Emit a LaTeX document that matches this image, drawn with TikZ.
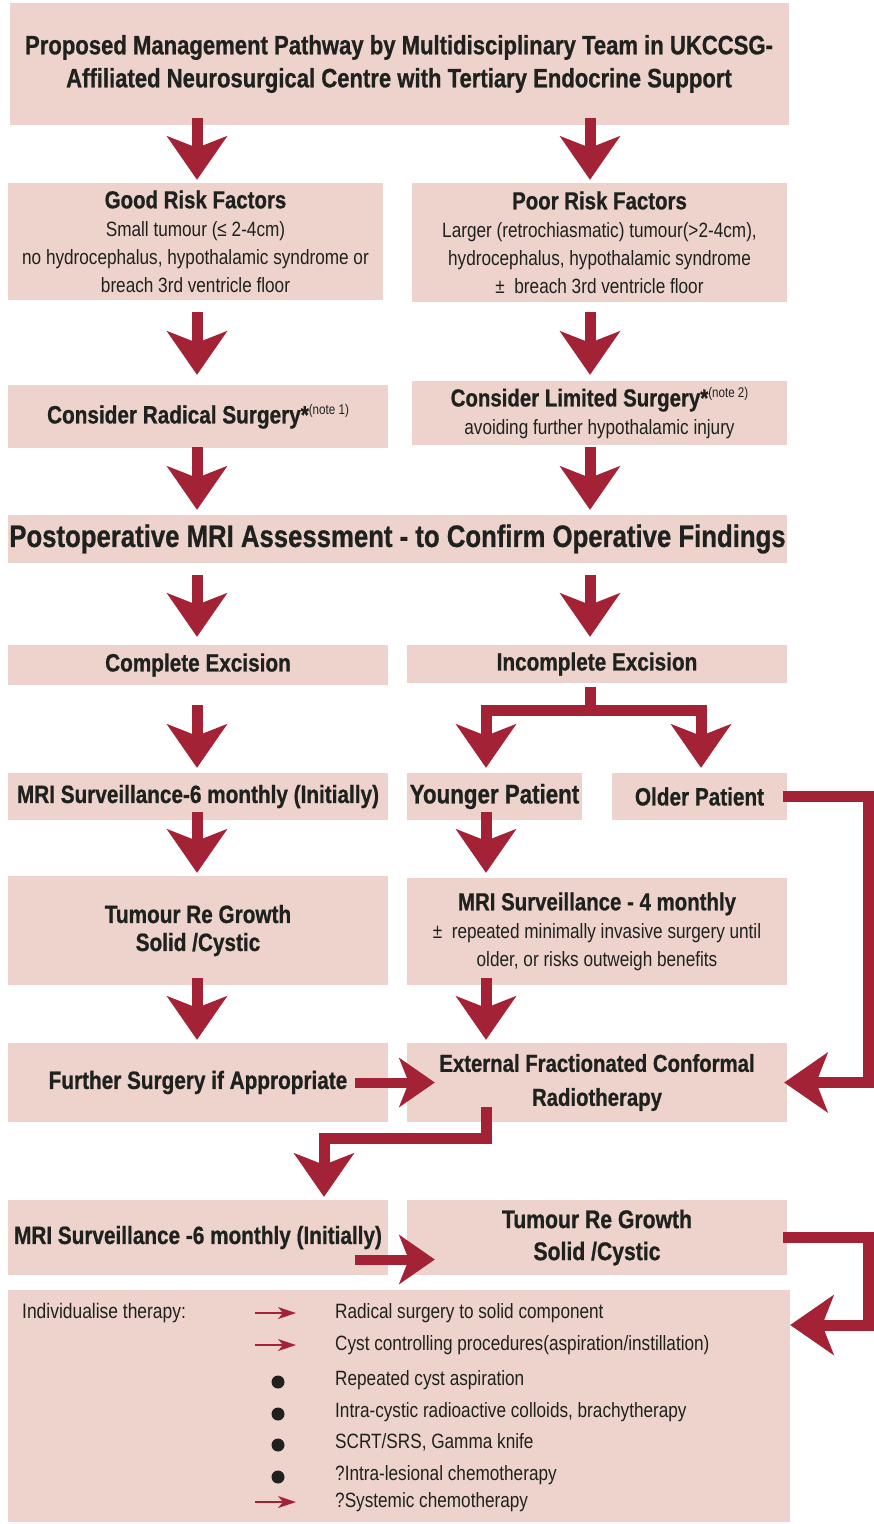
\documentclass[tikz,border=0pt]{standalone}
\usepackage{fontspec}
\setmainfont{Liberation Sans}[FakeStretch=0.83, BoldFeatures={FakeBold=0.8}]
\usetikzlibrary{arrows.meta}

\definecolor{boxpink}{HTML}{EDD3CC}
\definecolor{pathred}{HTML}{A32235}
\definecolor{ink}{HTML}{1F211E}

\newcommand{\boxhead}{\bfseries\fontsize{24.6}{28}\selectfont}
\newcommand{\notemark}[1]{\raisebox{9pt}{\normalfont\fontsize{14}{14}\selectfont(#1)}}

\tikzset{
  box/.style={fill=boxpink, text=ink, inner sep=0pt, align=center},
  headtext/.style={font=\bfseries\fontsize{25}{29}\selectfont},
  bodytext/.style={font=\fontsize{20.7}{28}\selectfont},
  bigarrow/.style={draw=pathred, line width=11pt,
    -{Stealth[length=44pt, width=61pt, inset=12pt, line width=0pt]}},
  sidearrow/.style={draw=pathred, line width=10pt,
    -{Stealth[length=36pt, width=50pt, inset=10pt, line width=0pt]}},
  tinyarrow/.style={draw=pathred, line width=2.5pt,
    -{Stealth[length=18pt, width=12pt, inset=5pt, line width=0pt]}},
  listitem/.style={anchor=west, text=ink, inner sep=0pt,
    font=\fontsize{20.7}{24}\selectfont, text height=14pt, text depth=4pt}
}

\begin{document}
\begin{tikzpicture}[x=1pt, y=-1pt]
  \useasboundingbox (0,0) rectangle (874,1524);

  % Columns for the arrows
  \coordinate (colL) at (197,0);
  \coordinate (colR) at (590,0);
  \coordinate (colY) at (486,0);
  \coordinate (colO) at (701,0);
  \coordinate (colE) at (324,0);
  \coordinate (rim) at (868,0);

  % Boxes
  \node[box, minimum width=779, minimum height=122,
    font=\bfseries\fontsize{26.6}{33}\selectfont] (title) at (399,64)
    {Proposed Management Pathway by Multidisciplinary Team in UKCCSG-\\
     Affiliated Neurosurgical Centre with Tertiary Endocrine Support};

  \node[box, bodytext, minimum width=375, minimum height=117] (good) at (195.5,241.5)
    {{\boxhead Good Risk Factors}\\
     Small tumour (≤ 2-4cm)\\
     no hydrocephalus, hypothalamic syndrome or\\
     breach 3rd ventricle floor};
  \node[box, bodytext, minimum width=375, minimum height=119] (poor) at (599.5,242.5)
    {{\boxhead Poor Risk Factors}\\
     Larger (retrochiasmatic) tumour(>2-4cm),\\
     hydrocephalus, hypothalamic syndrome\\
     ±\ \ breach 3rd ventricle floor};

  \node[box, headtext, minimum width=380, minimum height=63] (radical) at (198,416.5)
    {Consider Radical Surgery*\notemark{note 1}};
  \node[box, bodytext, minimum width=375, minimum height=64] (limited) at (599.5,413)
    {{\boxhead Consider Limited Surgery*\notemark{note 2}}\\
     avoiding further hypothalamic injury};

  \node[box, minimum width=779, minimum height=48,
    font=\bfseries\fontsize{31}{34}\selectfont] (postop) at (397.5,539)
    {Postoperative MRI Assessment - to Confirm Operative Findings};

  \node[box, headtext, minimum width=380, minimum height=40] (complete) at (198,665)
    {Complete Excision};
  \node[box, headtext, minimum width=380, minimum height=38] (incomplete) at (597,664)
    {Incomplete Excision};

  \node[box, headtext, minimum width=380, minimum height=47] (mrisix) at (198,796.5)
    {MRI Surveillance-6 monthly (Initially)};
  \node[box, minimum width=175, minimum height=47,
    font=\bfseries\fontsize{26.9}{30}\selectfont] (younger) at (494.5,796.5)
    {Younger Patient};
  \node[box, headtext, minimum width=175, minimum height=47] (older) at (699.5,796.5)
    {Older Patient};

  \node[box, minimum width=380, minimum height=109,
    font=\bfseries\fontsize{25}{28}\selectfont] (regrowth) at (198,930.5)
    {Tumour Re Growth\\Solid /Cystic};
  \node[box, bodytext, minimum width=380, minimum height=107] (mrifour) at (597,931.5)
    {{\boxhead MRI Surveillance - 4 monthly}\\
     ±\ \ repeated minimally invasive surgery until\\
     older, or risks outweigh benefits};

  \node[box, headtext, minimum width=380, minimum height=79] (further) at (198,1082.5)
    {Further Surgery if Appropriate};
  \node[box, minimum width=380, minimum height=79,
    font=\bfseries\fontsize{24.5}{34}\selectfont] (radio) at (597,1082.5)
    {External Fractionated Conformal\\Radiotherapy};

  \node[box, headtext, minimum width=380, minimum height=75] (mrisixb) at (198,1237.5)
    {MRI Surveillance -6 monthly (Initially)};
  \node[box, minimum width=380, minimum height=75,
    font=\bfseries\fontsize{25.5}{32}\selectfont] (regrowthb) at (597,1237.5)
    {Tumour Re Growth\\Solid /Cystic};

  \node[box, minimum width=782, minimum height=232] (therapy) at (399,1406) {};
  \coordinate (therapyin) at ([yshift=81pt]therapy.east);

  % Individualised therapy list
  \node[listitem, font=\fontsize{21}{24}\selectfont] (indiv) at (22,1313) {Individualise therapy:};
  \foreach \i/\y/\t in {1/1313/Radical surgery to solid component,
      2/1345/{Cyst controlling procedures(aspiration/instillation)},
      3/1380/Repeated cyst aspiration,
      4/1412/{Intra-cystic radioactive colloids, brachytherapy},
      5/1443/{SCRT/SRS, Gamma knife},
      6/1475/?Intra-lesional chemotherapy,
      7/1502/?Systemic chemotherapy}
    \node[listitem] (item\i) at (335,\y) {\t};
  \foreach \i in {1,2,7}
    \draw[tinyarrow] ([xshift=-80pt]item\i.west) -- ([xshift=-39pt]item\i.west);
  \foreach \i in {3,...,6}
    \fill[ink] ([xshift=-57pt,yshift=-2pt]item\i.west) circle (6.5pt);

  % Arrows down the left column
  \draw[bigarrow, shorten <=-7pt, shorten >=3pt] (colL |- title.south) -- (colL |- good.north);
  \draw[bigarrow, shorten <=12pt, shorten >=10pt] (colL |- good.south) -- (colL |- radical.north);
  \draw[bigarrow, shorten <=-1pt, shorten >=5pt] (colL |- radical.south) -- (colL |- postop.north);
  \draw[bigarrow, shorten <=12pt, shorten >=8pt] (colL |- postop.south) -- (colL |- complete.north);
  \draw[bigarrow, shorten <=20pt, shorten >=5pt] (colL |- complete.south) -- (colL |- mrisix.north);
  \draw[bigarrow, shorten <=-8pt, shorten >=3pt] (colL |- mrisix.south) -- (colL |- regrowth.north);
  \draw[bigarrow, shorten <=-7pt, shorten >=3pt] (colL |- regrowth.south) -- (colL |- further.north);

  % Arrows down the right column
  \draw[bigarrow, shorten <=-7pt, shorten >=3pt] (colR |- title.south) -- (colR |- poor.north);
  \draw[bigarrow, shorten <=10pt, shorten >=6pt] (colR |- poor.south) -- (colR |- limited.north);
  \draw[bigarrow, shorten <=2pt, shorten >=5pt] (colR |- limited.south) -- (colR |- postop.north);
  \draw[bigarrow, shorten <=12pt, shorten >=8pt] (colR |- postop.south) -- (colR |- incomplete.north);
  \draw[bigarrow, shorten <=4pt, shorten >=5pt] (colR |- incomplete.south) -- ++(0,27) -| (colY |- younger.north);
  \draw[bigarrow, shorten <=4pt, shorten >=5pt] (colR |- incomplete.south) -- ++(0,27) -| (colO |- older.north);
  \draw[bigarrow, shorten <=-8pt, shorten >=5pt] (colY |- younger.south) -- (colY |- mrifour.north);
  \draw[bigarrow, shorten <=-7pt, shorten >=3pt] (colY |- mrifour.south) -- (colY |- radio.north);

  % Side arrows and elbows
  \draw[bigarrow, shorten <=-4pt, shorten >=-3pt] (older.east) -| (rim |- radio.east) -- (radio.east);
  \draw[sidearrow, shorten <=-33pt, shorten >=-28pt] (further.east) -- (radio.west);
  \draw[bigarrow, shorten <=-15pt, shorten >=3pt] (colY |- radio.south) -- ++(0,16) -| (colE |- mrisixb.north);
  \draw[sidearrow, shorten <=-33pt, shorten >=-28pt] ([yshift=-22pt]mrisixb.east) -- ([yshift=-22pt]regrowthb.west);
  \draw[bigarrow, shorten <=-4pt] (regrowthb.east) -| (rim |- therapyin) -- (therapyin);
\end{tikzpicture}
\end{document}
